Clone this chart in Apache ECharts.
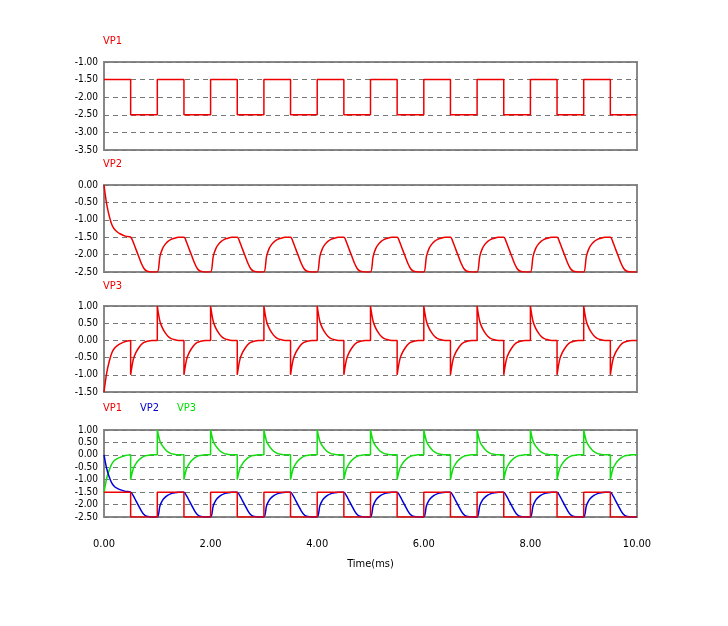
<!DOCTYPE html>
<html>
<head>
<meta charset="utf-8">
<script src="https://cdn.jsdelivr.net/npm/echarts@6/dist/echarts.min.js"></script>
<style>html,body{margin:0;background:#fff}#main{width:728px;height:626px}</style>
</head>
<body>
<div id="main"></div>
<script>
// time offsets inside each half period (ms)
const halfT = [0, 0.05, 0.1, 0.15, 0.2, 0.25, 0.3, 0.4, 0.5]
const cycles = 10

// VP1 levels (square wave)
const vp1High = -1.5
const vp1Low = -2.5

// VP2, one value per halfT point
const vp2Start = [0, -0.55, -0.9, -1.15, -1.28, -1.35, -1.4, -1.47, -1.5]
const vp2Fall = [-1.5, -1.65, -1.85, -2.05, -2.25, -2.4, -2.47, -2.5, -2.5]
const vp2Rise = [-2.5, -2.05, -1.82, -1.7, -1.62, -1.57, -1.54, -1.5, -1.5]

// VP3
const vp3Start = [-1.5, -0.95, -0.6, -0.35, -0.22, -0.15, -0.1, -0.03, 0]
const vp3Fall = [-1.0, -0.55, -0.35, -0.22, -0.12, -0.06, -0.03, 0, 0]
const vp3Rise = [1.0, 0.55, 0.35, 0.22, 0.12, 0.06, 0.03, 0, 0]

const yTicks = [
  { min: -3.5, max: -1.0 },
  { min: -2.5, max: 0 },
  { min: -1.5, max: 1.0 },
  { min: -2.5, max: 1.0 }
]

function build(first, fall, rise) {
  const pts = []
  for (let c = 0; c < cycles; c++) {
    const hi = c === 0 ? first : rise
    halfT.forEach((t, i) => pts.push([c + t, hi[i]]))
    halfT.forEach((t, i) => pts.push([c + 0.5 + t, fall[i]]))
  }
  return pts
}

const vp1 = []
for (let c = 0; c < cycles; c++) {
  vp1.push([c, vp1High], [c + 0.5, vp1High], [c + 0.5, vp1Low], [c + 1, vp1Low])
  if (c < cycles - 1) vp1.push([c + 1, vp1High])
}
const vp2 = build(vp2Start, vp2Fall, vp2Rise)
const vp3 = build(vp3Start, vp3Fall, vp3Rise)

const chart = echarts.init(document.getElementById('main'))
const tops = [62, 185, 306, 430]
const heights = [88, 87, 86, 87]
const font = 'Liberation Sans Narrow, DejaVu Sans Condensed, sans-serif'

const option = {
  backgroundColor: '#fff',
  animation: false,
  grid: tops.map((t, i) => ({ left: 104, width: 533, top: t, height: heights[i], show: true, borderColor: '#888', borderWidth: 2 })),
  xAxis: tops.map((t, i) => ({
    type: 'value', gridIndex: i, min: 0, max: 10, interval: 2,
    axisLine: { show: false }, axisTick: { show: false }, splitLine: { show: false },
    axisLabel: { show: i === 3, formatter: v => v.toFixed(2), color: '#000', fontSize: 11, fontFamily: font, margin: 22 },
    name: i === 3 ? 'Time(ms)' : '', nameLocation: 'middle', nameGap: 42,
    nameTextStyle: { color: '#000', fontSize: 11, fontFamily: font }
  })),
  yAxis: yTicks.map((r, i) => ({
    type: 'value', gridIndex: i, min: r.min, max: r.max, interval: 0.5,
    axisLine: { show: false }, axisTick: { show: false },
    splitLine: { lineStyle: { color: '#777', type: [5, 4], width: 1 } },
    axisLabel: { formatter: v => v.toFixed(2), color: '#000', fontSize: 10, fontFamily: font, margin: 6 }
  })),
  graphic: [
    { type: 'text', left: 103, top: 36, style: { text: 'VP1', fill: '#e00', font: '11px ' + font } },
    { type: 'text', left: 103, top: 159, style: { text: 'VP2', fill: '#e00', font: '11px ' + font } },
    { type: 'text', left: 103, top: 281, style: { text: 'VP3', fill: '#e00', font: '11px ' + font } },
    { type: 'text', left: 103, top: 403, style: { text: 'VP1', fill: '#e00', font: '11px ' + font } },
    { type: 'text', left: 140, top: 403, style: { text: 'VP2', fill: '#00c', font: '11px ' + font } },
    { type: 'text', left: 177, top: 403, style: { text: 'VP3', fill: '#0d0', font: '11px ' + font } }
  ],
  series: [
    { name: 'VP1', type: 'line', xAxisIndex: 0, yAxisIndex: 0, data: vp1, showSymbol: false, lineStyle: { color: '#e00', width: 1.5 } },
    { name: 'VP2', type: 'line', xAxisIndex: 1, yAxisIndex: 1, data: vp2, showSymbol: false, smooth: 0.3, lineStyle: { color: '#e00', width: 1.5 } },
    { name: 'VP3', type: 'line', xAxisIndex: 2, yAxisIndex: 2, data: vp3, showSymbol: false, smooth: 0.3, lineStyle: { color: '#e00', width: 1.5 } },
    { name: 'VP3', type: 'line', xAxisIndex: 3, yAxisIndex: 3, data: vp3, showSymbol: false, smooth: 0.3, lineStyle: { color: '#1d1', width: 1.5 } },
    { name: 'VP2', type: 'line', xAxisIndex: 3, yAxisIndex: 3, data: vp2, showSymbol: false, smooth: 0.3, lineStyle: { color: '#00d', width: 1.5 } },
    { name: 'VP1', type: 'line', xAxisIndex: 3, yAxisIndex: 3, data: vp1, showSymbol: false, lineStyle: { color: '#e00', width: 1.5 } }
  ]
}
chart.setOption(option)
</script>
</body>
</html>
